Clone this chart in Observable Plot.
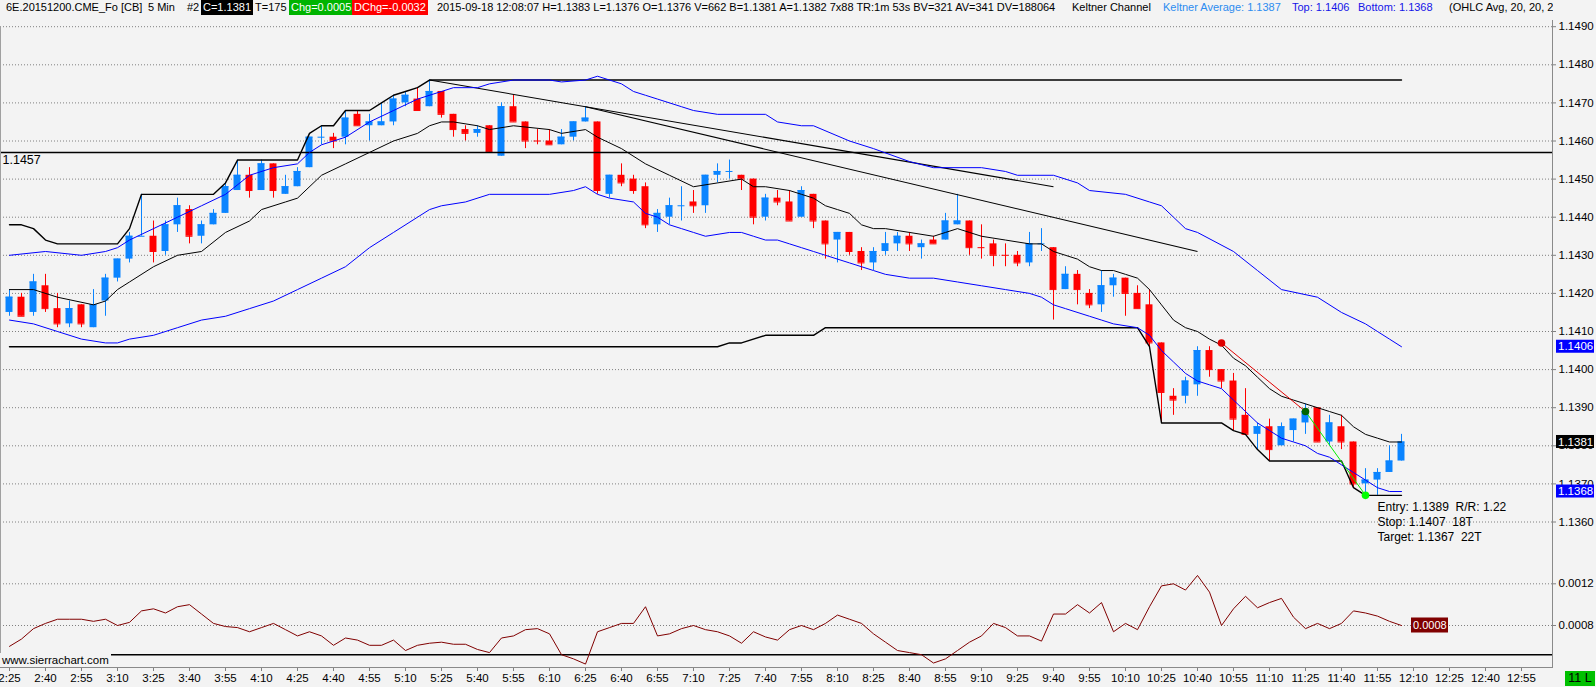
<!DOCTYPE html>
<html><head><meta charset="utf-8">
<script src="https://cdn.jsdelivr.net/npm/d3@7"></script>
<script src="https://cdn.jsdelivr.net/npm/@observablehq/plot@0.6"></script>
<style>
html,body{margin:0;padding:0;background:#f3f3f3;}
#wrap{position:relative;width:1596px;height:687px;overflow:hidden;background:#f3f3f3;font-family:"Liberation Sans",Arial,sans-serif;color:#000;}
#header{position:absolute;left:0;top:0;width:1553px;height:20px;overflow:hidden;font-size:11px;}
#header span{position:absolute;top:0px;white-space:pre;line-height:15px;}
#header span.box{color:#fff;padding:0 2px;}
#price{position:absolute;left:0;top:20px;}
#ind{position:absolute;left:0;top:560px;}
#leftedge{position:absolute;left:0;top:26px;width:1px;height:641px;background:#a0a0a0;}
#wm{position:absolute;left:0;top:653px;height:14px;line-height:14px;font-size:11.5px;background:#f3f3f3;padding:0 2px 0 2px;}
#lvl{position:absolute;left:1565px;top:671px;width:30px;height:15px;line-height:15px;background:#00c000;color:#000;font-size:12.5px;text-align:center;white-space:nowrap;}
</style></head>
<body>
<div id="wrap">
  <div id="header"></div>
  <div id="price"></div>
  <div id="ind"></div>
  <div id="leftedge"></div>
  <div id="wm">www.sierrachart.com</div>
  <div id="lvl">11 L</div>
</div>
<script>
// ---------- DATA ----------
const timeLabels = ["2:25","2:40","2:55","3:10","3:25","3:40","3:55","4:10","4:25","4:40","4:55","5:10","5:25","5:40","5:55","6:10","6:25","6:40","6:55","7:10","7:25","7:40","7:55","8:10","8:25","8:40","8:55","9:10","9:25","9:40","9:55","10:10","10:25","10:40","10:55","11:10","11:25","11:40","11:55","12:10","12:25","12:40","12:55"];
const priceTicks = [1.1360,1.1370,1.1380,1.1390,1.1400,1.1410,1.1420,1.1430,1.1440,1.1450,1.1460,1.1470,1.1480,1.1490];
const indTicks = [0.0008,0.0012];

const open  = [1.1415,1.1419,1.1415,1.1422,1.1416,1.1412,1.1417,1.1411,1.1418,1.1424,1.1429,1.1435,1.1435,1.1431,1.1438,1.1442,1.1435,1.1438,1.1441,1.1447,1.1451,1.1447,1.1454,1.1446,1.1448,1.1453,1.1461,1.1461,1.1461,1.1467,1.1464,1.1464,1.1465,1.1470,1.1471,1.1469,1.1473,1.1467,1.1463,1.1462,1.1464,1.1456,1.1469,1.1465,1.1460,1.1460,1.1459,1.1461,1.1465,1.1465,1.1446,1.1451,1.1450,1.1448,1.1438,1.1440,1.1443,1.1444,1.1443,1.1451,1.1452,1.1451,1.1450,1.1440,1.1445,1.1444,1.1440,1.1446,1.1439,1.1434,1.1436,1.1431,1.1428,1.1431,1.1433,1.1435,1.1432,1.1434,1.1434,1.1438,1.1439,1.1432,1.1433,1.1430,1.1430,1.1428,1.1433,1.1432,1.1421,1.1425,1.1420,1.1417,1.1422,1.1424,1.1420,1.1417,1.1407,1.1393,1.1393,1.1396,1.1405,1.1400,1.1397,1.1388,1.1383,1.1385,1.1380,1.1384,1.1386,1.1390,1.1381,1.1385,1.1381,1.1370,1.1371,1.1373,1.1376];
const high  = [1.1421,1.1420,1.1425,1.1425,1.1420,1.1418,1.1417,1.1421,1.1425,1.1429,1.1436,1.1446,1.1439,1.1439,1.1445,1.1443,1.1439,1.1442,1.1449,1.1455,1.1453,1.1455,1.1454,1.1451,1.1453,1.1461,1.1464,1.1462,1.1468,1.1468,1.1467,1.1470,1.1472,1.1473,1.1474,1.1476,1.1473,1.1467,1.1464,1.1464,1.1464,1.1470,1.1472,1.1465,1.1463,1.1463,1.1463,1.1465,1.1469,1.1465,1.1451,1.1454,1.1451,1.1449,1.1442,1.1445,1.1448,1.1447,1.1451,1.1454,1.1455,1.1451,1.1450,1.1446,1.1447,1.1447,1.1448,1.1446,1.1439,1.1436,1.1436,1.1432,1.1432,1.1436,1.1436,1.1436,1.1434,1.1435,1.1441,1.1446,1.1439,1.1438,1.1434,1.1433,1.1431,1.1436,1.1437,1.1432,1.1427,1.1426,1.1421,1.1426,1.1425,1.1424,1.1422,1.1421,1.1407,1.1395,1.1398,1.1406,1.1406,1.1400,1.1399,1.1395,1.1386,1.1387,1.1386,1.1387,1.1391,1.1390,1.1388,1.1388,1.1381,1.1374,1.1374,1.1380,1.1383];
const low   = [1.1414,1.1414,1.1414,1.1415,1.1411,1.1411,1.1411,1.1411,1.1414,1.1423,1.1428,1.1435,1.1428,1.1430,1.1436,1.1433,1.1433,1.1438,1.1441,1.1447,1.1445,1.1447,1.1445,1.1446,1.1448,1.1453,1.1459,1.1458,1.1459,1.1464,1.1460,1.1464,1.1464,1.1469,1.1468,1.1469,1.1466,1.1461,1.1460,1.1461,1.1457,1.1456,1.1465,1.1458,1.1459,1.1459,1.1459,1.1460,1.1465,1.1446,1.1445,1.1448,1.1446,1.1437,1.1436,1.1438,1.1439,1.1441,1.1441,1.1449,1.1450,1.1447,1.1438,1.1439,1.1443,1.1439,1.1440,1.1437,1.1429,1.1428,1.1430,1.1426,1.1426,1.1430,1.1431,1.1431,1.1429,1.1433,1.1434,1.1438,1.1430,1.1429,1.1427,1.1427,1.1427,1.1427,1.1431,1.1413,1.1421,1.1417,1.1416,1.1415,1.1419,1.1414,1.1416,1.1406,1.1386,1.1388,1.1391,1.1393,1.1398,1.1395,1.1384,1.1383,1.1379,1.1376,1.1380,1.1381,1.1383,1.1381,1.1380,1.1379,1.1369,1.1367,1.1367,1.1373,1.1376];
const close = [1.1419,1.1414,1.1423,1.1416,1.1412,1.1416,1.1412,1.1417,1.1424,1.1429,1.1435,1.1435,1.1431,1.1438,1.1443,1.1435,1.1438,1.1441,1.1448,1.1451,1.1447,1.1454,1.1447,1.1448,1.1452,1.1461,1.1461,1.1460,1.1466,1.1464,1.1465,1.1465,1.1471,1.1472,1.1468,1.1473,1.1467,1.1463,1.1462,1.1463,1.1457,1.1469,1.1465,1.1460,1.1460,1.1459,1.1461,1.1465,1.1466,1.1447,1.1451,1.1449,1.1447,1.1438,1.1441,1.1443,1.1443,1.1443,1.1451,1.1452,1.1452,1.1450,1.1440,1.1445,1.1444,1.1439,1.1447,1.1439,1.1433,1.1436,1.1431,1.1428,1.1431,1.1433,1.1435,1.1433,1.1433,1.1433,1.1439,1.1439,1.1432,1.1432,1.1430,1.1430,1.1428,1.1433,1.1433,1.1421,1.1425,1.1421,1.1417,1.1422,1.1424,1.1420,1.1416,1.1407,1.1394,1.1392,1.1397,1.1405,1.1400,1.1397,1.1387,1.1383,1.1385,1.1379,1.1385,1.1387,1.1389,1.1381,1.1386,1.1381,1.1370,1.1371,1.1373,1.1376,1.1381];
const dojiUp = [11,26,56,60,86];

const keltnerTop = [[0,1.1430],[3,1.1431],[6,1.1430],[8,1.1431],[9,1.1432],[10,1.1434],[12,1.1437],[14,1.1440],[16,1.1443],[18,1.1446],[20,1.1451],[22,1.1453],[24,1.1454],[25,1.1457],[26,1.1459],[28,1.1461],[30,1.1465],[32,1.1468],[34,1.1471],[36,1.1473],[37,1.1474],[39,1.1474],[40,1.1475],[42,1.1476],[45,1.1476],[46,1.14755],[48,1.1476],[49,1.1477],[50,1.1476],[51,1.1475],[52,1.1473],[53,1.1472],[54,1.1471],[55,1.1470],[56,1.1469],[57,1.1468],[59,1.1467],[63,1.1467],[64,1.1465],[66,1.1464],[67,1.1464],[70,1.1460],[72,1.1458],[75,1.14546],[77,1.1453],[81,1.1453],[83,1.1452],[84,1.1451],[87,1.1451],[89,1.1449],[90,1.1447],[93,1.1446],[95,1.1444],[96,1.1443],[97,1.1440],[98,1.1437],[99,1.1436],[102,1.1431],[104,1.1426],[106,1.1421],[109,1.1419],[111,1.1415],[113,1.1412],[114,1.1410],[115,1.1408],[116,1.1406]];
const keltnerAvg = [[0,1.1421],[2,1.1421],[4,1.1419],[7,1.1417],[8,1.1418],[9,1.1421],[10,1.1423],[12,1.1427],[14,1.1430],[16,1.1431],[18,1.1436],[20,1.1439],[21,1.1442],[23,1.1444],[24,1.1445],[26,1.1451],[28,1.1454],[30,1.1457],[32,1.1460],[34,1.1462],[35,1.1464],[36,1.1465],[37,1.1465],[39,1.1464],[40,1.1463],[42,1.1464],[45,1.1463],[46,1.1462],[48,1.1463],[49,1.1461],[51,1.1458],[53,1.1454],[55,1.1451],[57,1.1448],[59,1.1449],[61,1.1450],[62,1.1448],[63,1.1448],[65,1.1447],[66,1.1446],[67,1.1445],[68,1.1443],[69,1.1442],[70,1.1441],[71,1.1438],[72,1.1437],[73,1.1437],[75,1.1436],[77,1.1435],[78,1.1436],[79,1.1437],[80,1.1436],[81,1.1435],[83,1.1434],[85,1.1433],[86,1.1433],[87,1.1431],[88,1.1430],[89,1.1429],[90,1.1427],[91,1.1426],[92,1.1426],[93,1.1425],[94,1.1424],[95,1.1421],[96,1.1417],[97,1.1413],[98,1.1411],[99,1.1410],[100,1.1408],[101,1.14064],[102,1.1403],[103,1.1401],[104,1.1398],[105,1.1395],[106,1.1393],[107,1.1392],[108,1.1391],[109,1.1390],[110,1.1389],[111,1.1388],[112,1.1385],[113,1.1383],[114,1.1382],[115,1.1381],[116,1.1381]];
const keltnerBottom = [[0,1.1413],[2,1.1412],[4,1.1410],[6,1.1408],[8,1.1407],[9,1.1407],[10,1.1408],[12,1.1409],[14,1.1411],[16,1.1413],[18,1.1414],[20,1.1416],[22,1.1418],[24,1.1421],[26,1.1424],[28,1.1427],[30,1.1432],[32,1.1436],[34,1.1440],[35,1.1442],[36,1.1443],[38,1.1444],[40,1.1446],[45,1.1446],[47,1.1447],[48,1.1448],[49,1.1446],[50,1.1445],[52,1.1444],[53,1.1441],[54,1.1440],[55,1.1438],[56,1.1437],[57,1.1436],[58,1.1435],[60,1.1436],[61,1.1436],[62,1.1435],[63,1.1434],[64,1.1434],[65,1.1433],[66,1.1432],[67,1.1431],[68,1.1430],[70,1.1428],[71,1.1427],[72,1.1426],[73,1.1425],[75,1.1424],[77,1.1424],[79,1.1423],[81,1.1422],[83,1.1421],[85,1.1420],[86,1.1419],[87,1.1417],[88,1.1416],[90,1.1414],[91,1.1413],[92,1.1412],[94,1.1411],[95,1.1409],[96,1.1405],[97,1.1402],[98,1.1399],[99,1.1397],[100,1.1396],[101,1.1395],[102,1.1392],[103,1.1389],[104,1.1386],[105,1.1384],[106,1.1382],[107,1.1381],[108,1.1380],[109,1.1378],[110,1.1377],[111,1.1375],[112,1.1373],[113,1.1371],[114,1.1369],[115,1.1368],[116,1.1368]];
const highestHigh = [[0,1.1438],[1,1.1438],[2,1.1437],[3,1.1434],[4,1.1433],[9,1.1433],[10,1.1437],[11,1.1446],[17,1.1446],[18,1.1449],[19,1.1455],[24,1.1455],[25,1.1462],[26,1.1464],[27,1.1464],[28,1.1468],[30,1.1468],[31,1.1470],[32,1.1472],[33,1.1473],[34,1.1474],[35,1.1476],[116,1.1476]];
const lowestLow = [[0,1.1406],[59,1.1406],[60,1.1407],[61,1.1407],[63,1.1409],[67,1.1409],[68,1.1411],[94,1.1411],[95,1.1406],[96,1.1386],[101,1.1386],[102,1.1384],[103,1.1383],[104,1.1379],[105,1.1376],[111,1.1376],[112,1.1369],[113,1.1367],[116,1.1367]];
const trendLines = [{x1:35,y1:1.1476,x2:87,y2:1.1448},{x1:48,y1:1.1469,x2:99,y2:1.1431}];
const levelLine = 1.1457;
const trade = {stopBar:101, stop:1.1407, entryBar:108, entry:1.1389, targetBar:113, target:1.1367};
const tradeText = "Entry: 1.1389  R/R: 1.22\nStop: 1.1407  18T\nTarget: 1.1367  22T";
const priceTags = [{value:1.1406, bg:"#0000ff"},{value:1.1381, bg:"#000000"},{value:1.1368, bg:"#0000ff"}];

const indicator = [0.00060,0.00067,0.00077,0.00082,0.00086,0.00086,0.00086,0.00084,0.00086,0.00080,0.00083,0.00094,0.00096,0.00092,0.00098,0.00100,0.00091,0.00082,0.00079,0.00078,0.00074,0.00078,0.00082,0.00076,0.00070,0.00074,0.00070,0.00061,0.00068,0.00066,0.00061,0.00061,0.00066,0.00056,0.00061,0.00063,0.00064,0.00062,0.00062,0.00057,0.00054,0.00068,0.00070,0.00076,0.00077,0.00072,0.00052,0.00048,0.00043,0.00074,0.00078,0.00082,0.00082,0.00098,0.00070,0.00072,0.00077,0.00080,0.00076,0.00074,0.00070,0.00063,0.00074,0.00069,0.00066,0.00076,0.00080,0.00076,0.00082,0.00090,0.00086,0.00082,0.00072,0.00064,0.00056,0.00054,0.00052,0.00044,0.00048,0.00056,0.00064,0.00070,0.00082,0.00078,0.00070,0.00070,0.00065,0.00091,0.00091,0.00100,0.00092,0.00102,0.00074,0.00082,0.00076,0.00098,0.00118,0.00120,0.00114,0.00128,0.00112,0.00080,0.00096,0.00108,0.00097,0.00102,0.00106,0.00088,0.00077,0.00082,0.00077,0.00082,0.00094,0.00092,0.00089,0.00084,0.00080];
const indicatorLevel = 0.00052;

const headerParts = [
  {t:"6E.20151200.CME_Fo [CB]", x:6},
  {t:"5 Min", x:148},
  {t:"#2", x:187},
  {t:"C=1.1381", x:201, bg:"#000"},
  {t:"T=175", x:255},
  {t:"Chg=0.0005", x:289, bg:"#00b400"},
  {t:"DChg=-0.0032", x:352, bg:"#ff0000"},
  {t:"2015-09-18 12:08:07 H=1.1383 L=1.1376 O=1.1376 V=662 B=1.1381 A=1.1382 7x88 TR:1m 53s BV=321 AV=341 DV=188064", x:437},
  {t:"Keltner Channel", x:1072},
  {t:"Keltner Average: 1.1387", x:1163, c:"#2c8cf0"},
  {t:"Top: 1.1406", x:1292, c:"#1515e8"},
  {t:"Bottom: 1.1368", x:1358, c:"#1515e8"},
  {t:"(OHLC Avg, 20, 20, 2.", x:1449}
];

// ---------- RENDER ----------
const FONT = '"Liberation Sans", Arial, sans-serif';
const UP = "#0a84ff", DN = "#ff0000";

const hdr = document.getElementById("header");
for (const p of headerParts) {
  const s = document.createElement("span");
  s.textContent = p.t;
  s.style.left = p.x + "px";
  if (p.bg) { s.className = "box"; s.style.background = p.bg; }
  if (p.c) s.style.color = p.c;
  hdr.appendChild(s);
}

const bars = open.map((o, i) => ({
  i, open: o, high: high[i], low: low[i], close: close[i],
  col: (close[i] > o || (close[i] === o && dojiUp.includes(i))) ? UP : DN
}));
const tickBars = timeLabels.map((_, k) => k * 3);
const tickMap = new Map(tickBars.map((b, k) => [b, timeLabels[k]]));
const xScale = {domain: [0, 126], range: [9, 1521]};

function tags(items, leftFn, fontSize, h, w) {
  return (index, scales, values, dimensions) => {
    const g = d3.create("svg:g").attr("font-family", FONT).attr("font-size", fontSize).attr("text-anchor", "start");
    for (const it of items) {
      const y = scales.y(it.value);
      const x0 = leftFn(scales, dimensions);
      g.append("rect").attr("x", x0).attr("y", y - h / 2).attr("width", w).attr("height", h).attr("fill", it.bg);
      g.append("text").attr("x", x0 + 2).attr("y", y).attr("dy", "0.36em").attr("text-anchor", "start").attr("fill", "#fff").text(it.value.toFixed(4));
    }
    return g.node();
  };
}

const price = Plot.plot({
  width: 1596, height: 540,
  marginLeft: 0, marginRight: 44, marginTop: 0, marginBottom: 0,
  style: {background: "transparent", fontFamily: FONT, fontSize: "11.5px", color: "#000", overflow: "visible"},
  x: {...xScale, axis: null},
  y: {domain: [1.1360, 1.1490], range: [501.5, 6.2]},
  marks: [
    Plot.ruleY(priceTicks, {stroke: "#808080", strokeDasharray: "1,2"}),
    Plot.axisY(priceTicks, {anchor: "right", tickSize: 3, tickPadding: 3, tickFormat: d => d.toFixed(4), fontSize: 11.5, stroke: "#808080"}),
    Plot.frame({anchor: "right", stroke: "#8a8a8a"}),
    // candles
    Plot.ruleX(bars, {x: "i", y1: "low", y2: "high", stroke: "col", strokeWidth: 1}),
    Plot.rect(bars, {x1: d => d.i - 0.29, x2: d => d.i + 0.29, y1: "open", y2: "close", fill: "col"}),
    Plot.ruleY(bars, {x1: d => d.i - 0.29, x2: d => d.i + 0.29, y: "close", stroke: "col", strokeWidth: 1}),
    // level line
    Plot.ruleY([levelLine], {stroke: "#000", strokeWidth: 1.6}),
    Plot.text([levelLine], {y: d => d, frameAnchor: "left", dx: 2, dy: 8, textAnchor: "start", text: d => d.toFixed(4), fontSize: 12.5, fill: "#000"}),
    // step lines
    Plot.line(highestHigh, {x: d => d[0], y: d => d[1], stroke: "#000", strokeWidth: 1.4}),
    Plot.line(lowestLow, {x: d => d[0], y: d => d[1], stroke: "#000", strokeWidth: 1.4}),
    // trend lines
    Plot.link(trendLines, {x1: "x1", y1: "y1", x2: "x2", y2: "y2", stroke: "#000", strokeWidth: 1.1}),
    // keltner
    Plot.line(keltnerTop, {x: d => d[0], y: d => d[1], stroke: "#0000ff", strokeWidth: 1}),
    Plot.line(keltnerBottom, {x: d => d[0], y: d => d[1], stroke: "#0000ff", strokeWidth: 1}),
    Plot.line(keltnerAvg, {x: d => d[0], y: d => d[1], stroke: "#000", strokeWidth: 1}),
    // trade
    Plot.link([trade], {x1: "stopBar", y1: "stop", x2: "entryBar", y2: "entry", stroke: "#e00000", strokeWidth: 1}),
    Plot.link([trade], {x1: "entryBar", y1: "entry", x2: "targetBar", y2: "target", stroke: "#00ee00", strokeWidth: 1}),
    Plot.dot([trade], {x: "stopBar", y: "stop", r: 3.8, fill: "#e00000"}),
    Plot.dot([trade], {x: "entryBar", y: "entry", r: 3.8, fill: "#006400"}),
    Plot.dot([trade], {x: "targetBar", y: "target", r: 3.8, fill: "#00ff00"}),
    Plot.text([trade], {x: "targetBar", y: "target", text: () => tradeText, textAnchor: "start", lineAnchor: "top", dx: 12, dy: 5, lineHeight: 1.25, fontSize: 12, fill: "#000"}),
    tags(priceTags, (s, d) => d.width - d.marginRight + 4, 11.5, 13, 38)
  ]
});
document.getElementById("price").appendChild(price);

const ind = Plot.plot({
  width: 1596, height: 127,
  marginLeft: 0, marginRight: 44, marginTop: 0, marginBottom: 20,
  style: {background: "transparent", fontFamily: FONT, fontSize: "11.5px", color: "#000", overflow: "visible"},
  x: {...xScale},
  y: {domain: [0.0004, 0.0012], range: [106.7, 23.3]},
  marks: [
    Plot.ruleY(indTicks, {stroke: "#808080", strokeDasharray: "1,2"}),
    Plot.axisY(indTicks, {anchor: "right", tickSize: 3, tickPadding: 3, tickFormat: d => d.toFixed(4), fontSize: 11.5, stroke: "#808080"}),
    Plot.ruleY([indicatorLevel], {stroke: "#000", strokeWidth: 1.5}),
    Plot.line(indicator.map((v, i) => [i, v]), {x: d => d[0], y: d => d[1], stroke: "#800000", strokeWidth: 1}),
    Plot.axisX(tickBars, {anchor: "bottom", tickSize: 4, tickPadding: 2, tickFormat: d => tickMap.get(d), fontSize: 11.5, stroke: "#808080"}),
    Plot.frame({anchor: "bottom", stroke: "#8a8a8a"}),
    Plot.frame({anchor: "right", stroke: "#8a8a8a"}),
    tags([{value: 0.0008, bg: "#800000"}], (s, d) => s.x(116) + 10, 11, 15, 37)
  ]
});
document.getElementById("ind").appendChild(ind);
</script>
</body></html>
